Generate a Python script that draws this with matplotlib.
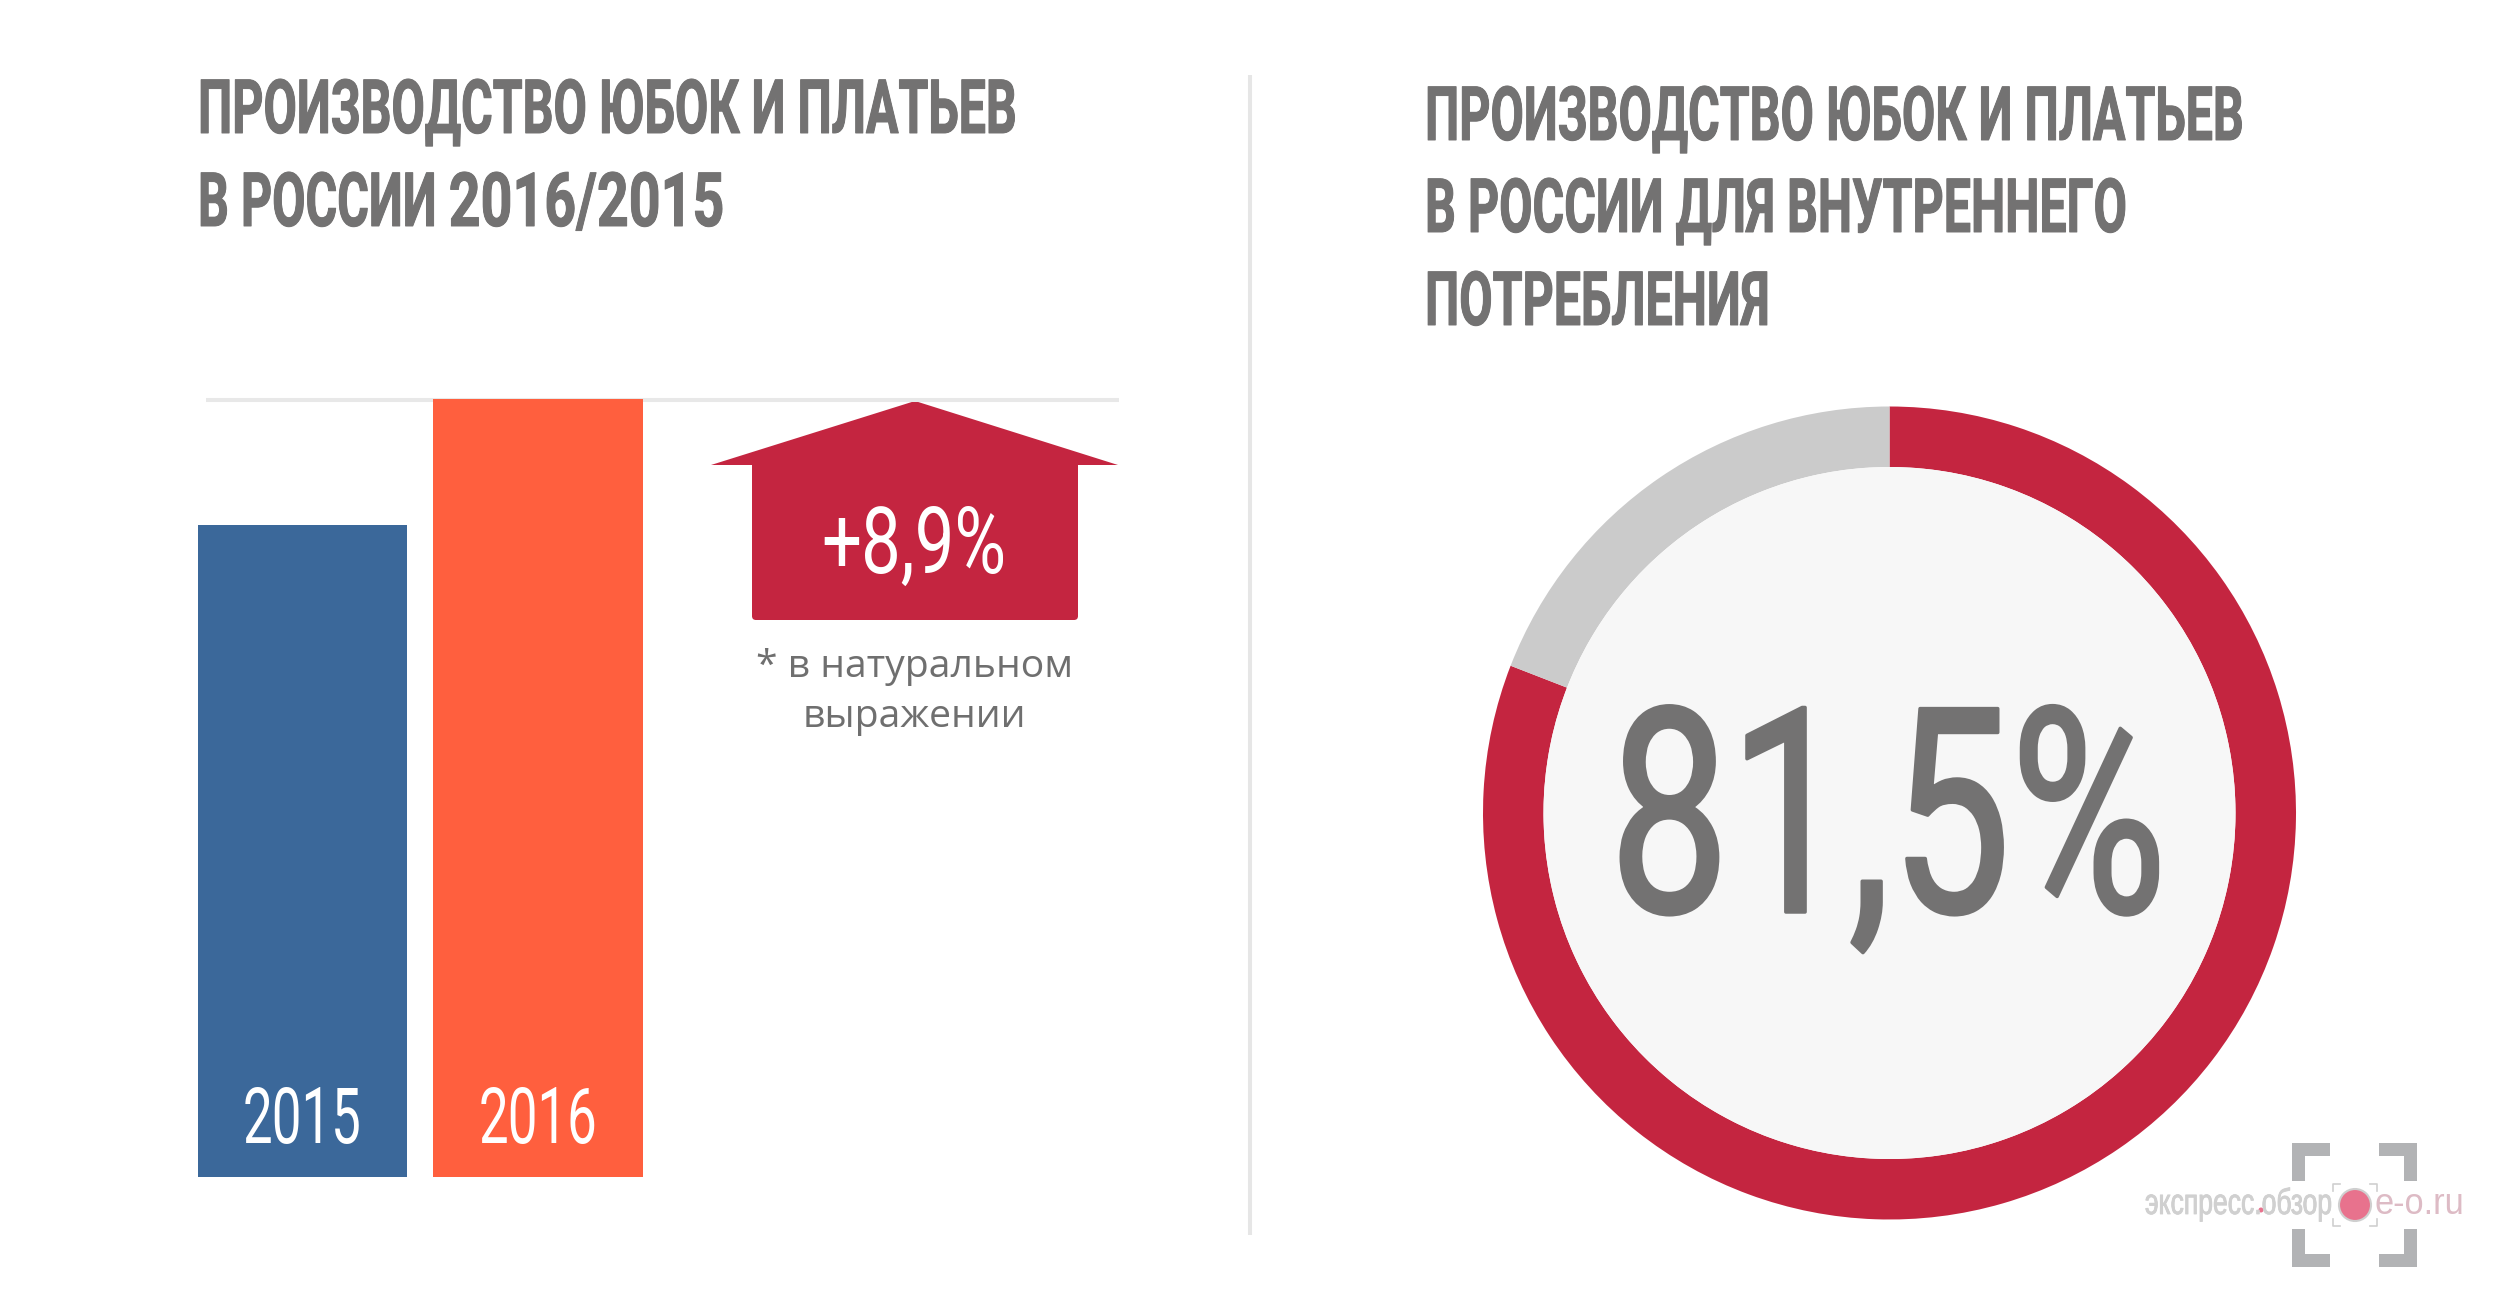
import os
import matplotlib
matplotlib.use("Agg")
from matplotlib import pyplot as plt
from matplotlib import font_manager as fm
from matplotlib import patheffects as pe
from matplotlib.patches import Circle, FancyBboxPatch, Polygon, Rectangle
from fontTools.ttLib import TTFont
from fontTools.varLib import instancer

# data
years = ["2015", "2016"]
bar_values = [83.8, 100]
bar_colors = ["#3B689A", "#FF5F3E"]
share_values = [80.9, 19.1]
share_colors = ["#C42540", "#CBCBCB"]
growth_label = "+8,9%"
share_label = "81,5%"
note_label = "* в натуральном\nвыражении"
left_title = ["ПРОИЗВОДСТВО ЮБОК И ПЛАТЬЕВ", "В РОССИИ 2016/2015"]
right_title = ["ПРОИЗВОДСТВО ЮБОК И ПЛАТЬЕВ", "В РОССИИ ДЛЯ ВНУТРЕННЕГО", "ПОТРЕБЛЕНИЯ"]

W, H = 2502, 1310
GREY = "#737272"
RED = "#C42540"


def squeezed(family, weight, sx, digit_sx=None):
    # no condensed font installed, so make one from a regular family
    out = f"squeezed_{family.split()[0]}_{weight}_{int(sx * 1000)}_{int((digit_sx or sx) * 1000)}.ttf"
    if os.path.exists(out):
        return out
    f = TTFont(fm.findfont(fm.FontProperties(family=family, weight=weight)))
    if "fvar" in f:
        axes = {a.axisTag: a.defaultValue for a in f["fvar"].axes}
        if "wght" in axes:
            axes["wght"] = weight
        f = instancer.instantiateVariableFont(f, axes)
    cmap = f.getBestCmap()
    wide = {cmap[ord(c)] for c in "0123456789/" if ord(c) in cmap}
    glyf = f["glyf"]
    hmtx = f["hmtx"]
    for name in f.getGlyphOrder():
        g = glyf[name]
        s = digit_sx if digit_sx and name in wide else sx
        if g.isComposite():
            for c in g.components:
                c.x = round(c.x * s)
        elif g.numberOfContours > 0:
            g.coordinates.scale((s, 1))
            g.coordinates.toInt()
        g.recalcBounds(glyf)
        adv, lsb = hmtx.metrics[name]
        hmtx.metrics[name] = (round(adv * s), round(lsb * s))
    for tag in ("hdmx", "VDMX", "LTSH"):
        if tag in f:
            del f[tag]
    f.save(out)
    return out


def font(family, weight, sx, size, digit_sx=None):
    return fm.FontProperties(fname=squeezed(family, weight, sx, digit_sx), size=size)


def box(x0, y0, x1, y1):
    # pixel box (y from top) to figure fractions
    return [x0 / W, 1 - y1 / H, (x1 - x0) / W, (y1 - y0) / H]


fig = plt.figure(figsize=(W / 100, H / 100), dpi=100, facecolor="white")

# pixel overlay for the decoration
bg = fig.add_axes([0, 0, 1, 1], zorder=0)
bg.set_xlim(0, W)
bg.set_ylim(H, 0)
bg.axis("off")

bg.plot([206, 1119], [400, 400], color="#E8E8E8", lw=2.9, solid_capstyle="butt")
bg.plot([1250, 1250], [75, 1235], color="#E6E6E6", lw=2.9, solid_capstyle="butt")

title_font = font("Roboto", 700, 0.645, 54, digit_sx=0.74)
thick = [pe.withStroke(linewidth=0.7, foreground=GREY)]
for line, y in zip(left_title, [133, 226]):
    bg.text(198, y, line, color=GREY, fontproperties=title_font, va="baseline", path_effects=thick)
for line, y in zip(right_title, [140, 232, 325]):
    bg.text(1425, y, line, color=GREY, fontproperties=title_font, va="baseline", path_effects=thick)

# arrow
bg.add_patch(Polygon([(711, 465), (915, 401), (1118, 465)], closed=True, fc=RED, ec="none"))
bg.add_patch(Rectangle((752, 464), 326, 40, fc=RED, ec="none"))
bg.add_patch(FancyBboxPatch((756, 480), 318, 136, boxstyle="round,pad=4,rounding_size=4", fc=RED, ec="none"))
bg.text(914, 573, growth_label, color="white", fontproperties=font("Roboto", 400, 0.76, 67), ha="center", va="baseline")

note_font = fm.FontProperties(family="Open Sans", size=28.2)
for line, y in zip(note_label.split("\n"), [677, 727]):
    bg.text(914, y, line, color="#6F6F6F", fontproperties=note_font, ha="center", va="baseline")

# bars
ax = fig.add_axes(box(197.5, 398.5, 643, 1177), zorder=1)
ax.patch.set_alpha(0)
ax.bar(range(len(years)), bar_values, width=0.89, color=bar_colors)
ax.set_xlim(-0.445, 1.445)
ax.set_ylim(0, 100)
ax.axis("off")
year_font = font("Roboto", 400, 0.68, 56)
for i, year in enumerate(years):
    ax.annotate(year, (i, 0), xytext=(0, 34 * 0.72), textcoords="offset points", color="white",
                fontproperties=year_font, ha="center", va="baseline")

# donut
cx, cy, outer, inner = 1889.5, 813, 406.5, 346
ax2 = fig.add_axes(box(cx - outer, cy - outer, cx + outer, cy + outer), zorder=1)
ax2.patch.set_alpha(0)
ax2.pie(share_values, colors=share_colors, startangle=90, counterclock=False, radius=1,
        wedgeprops=dict(width=1 - inner / outer, linewidth=0))
ax2.add_patch(Circle((0, 0), inner / outer, fc="#F7F7F7", ec="none"))
ax2.set_xlim(-1, 1)
ax2.set_ylim(-1, 1)
ax2.axis("off")

fg = fig.add_axes([0, 0, 1, 1], zorder=2)
fg.set_xlim(0, W)
fg.set_ylim(H, 0)
fg.axis("off")
fg.text(1888, 912, share_label, color=GREY, fontproperties=font("Roboto", 400, 0.745, 206),
        ha="center", va="baseline", path_effects=[pe.withStroke(linewidth=2.5, foreground=GREY)])

# watermark
mark = "#B2B3B5"
for x, y, dx, dy in [(2292, 1143, 1, 1), (2417, 1143, -1, 1), (2292, 1267, 1, -1), (2417, 1267, -1, -1)]:
    fg.add_patch(Polygon([(x, y), (x + 38 * dx, y), (x + 38 * dx, y + 13 * dy), (x + 13 * dx, y + 13 * dy),
                          (x + 13 * dx, y + 38 * dy), (x, y + 38 * dy)], closed=True, fc=mark, ec="none"))
for x, y, dx, dy in [(2333, 1184, 1, 1), (2377, 1184, -1, 1), (2333, 1226, 1, -1), (2377, 1226, -1, -1)]:
    fg.plot([x + 7 * dx, x, x], [y, y, y + 7 * dy], color="#CFCFCF", lw=1.2)
fg.text(2145, 1214, "экспресс.обзор", color="#D0D0D0", fontproperties=font("Liberation Sans", 400, 0.735, 26),
        va="baseline", path_effects=[pe.withStroke(linewidth=0.6, foreground="#D0D0D0")])
fg.add_patch(Circle((2261, 1210), 2.5, fc="#E8728D", ec="none"))
fg.add_patch(Circle((2355, 1205), 16, fc="#E8728D", ec="#CFCFCF", lw=1.5))
fg.text(2374, 1214, "e-o.ru", color="#DDBBC5", fontproperties=font("Liberation Sans", 400, 0.95, 26), va="baseline")

fig.savefig("out.png", dpi=100)
